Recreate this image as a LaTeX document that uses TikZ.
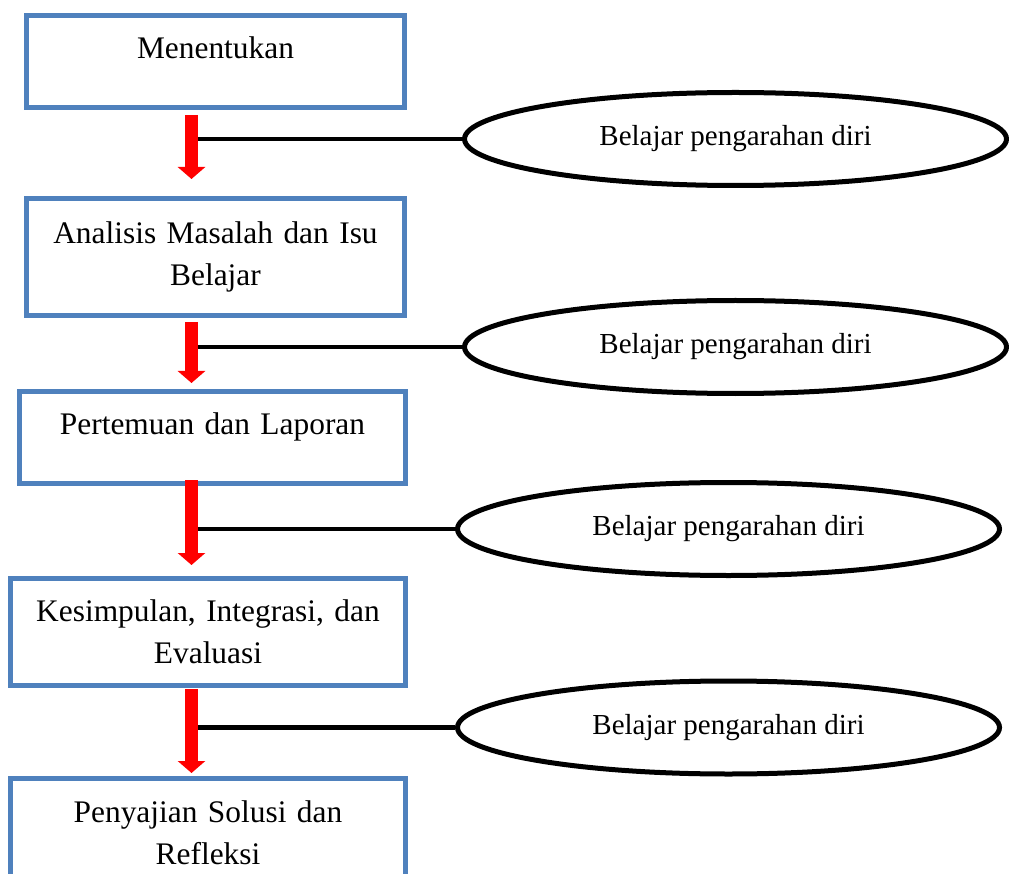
\documentclass[tikz,border=0pt]{standalone}
\usepackage{fontspec}
\setmainfont{Liberation Serif}
\usepackage{tikz}
\usetikzlibrary{shapes.geometric}
\usetikzlibrary{arrows.meta}
\definecolor{boxblue}{HTML}{4F81BD}

\begin{document}
\begin{tikzpicture}[x=1pt, y=-1pt,
  stepbox/.style={draw=boxblue, line width=5pt, rectangle, inner sep=0pt, text width=370pt, align=center, font=\fontsize{31.4}{42}\selectfont},
  onebox/.style={stepbox, text height=22pt, text depth=28pt},
  selfell/.style={draw, ellipse, line width=5pt, inner sep=0pt, minimum width=542pt, minimum height=93pt, font=\fontsize{29}{35}\selectfont},
  link/.style={draw, line width=4.3pt},
  flowarrow/.style={draw=red, line width=13pt, -{Triangle[width=27pt, length=12pt]}, red}]
\useasboundingbox (0,0) rectangle (1009,874);
\clip (0,0) rectangle (1009,874);
\coordinate (ax) at (191.5,0);

\node[onebox, minimum width=378pt, minimum height=92pt] (m1) at (215.5,61.5) {Menentukan};
\node[stepbox, minimum width=378pt, minimum height=117pt] (m2) at (215.5,257) {Analisis Masalah dan Isu\\Belajar};
\node[onebox, minimum width=386pt, minimum height=92pt] (m3) at (212.5,437.5) {Pertemuan dan Laporan};
\node[stepbox, minimum width=395pt, minimum height=107pt] (m4) at (208,632) {Kesimpulan, Integrasi, dan\\Evaluasi};
\node[stepbox, minimum width=395pt, minimum height=108pt] (m5) at (208,832.5) {Penyajian Solusi dan\\Refleksi};

\node[selfell] (e1) at (735.5,139) {Belajar pengarahan diri};
\node[selfell] (e2) at (735.5,347) {Belajar pengarahan diri};
\node[selfell] (e3) at (728.5,529) {Belajar pengarahan diri};
\node[selfell] (e4) at (728.5,727.5) {Belajar pengarahan diri};

\draw[link] (e1.west) -- (e1.west -| ax);
\draw[link] (e2.west) -- (e2.west -| ax);
\draw[link] (e3.west) -- (e3.west -| ax);
\draw[link] (e4.west) -- (e4.west -| ax);

\draw[flowarrow, shorten <=5pt, shorten >=17pt] (m1.south -| ax) -- (m2.north -| ax);
\draw[flowarrow, shorten <=4pt, shorten >=6pt] (m2.south -| ax) -- (m3.north -| ax);
\draw[flowarrow, shorten <=-6pt, shorten >=11pt] (m3.south -| ax) -- (m4.north -| ax);
\draw[flowarrow, shorten <=1pt, shorten >=3pt] (m4.south -| ax) -- (m5.north -| ax);
\end{tikzpicture}
\end{document}
